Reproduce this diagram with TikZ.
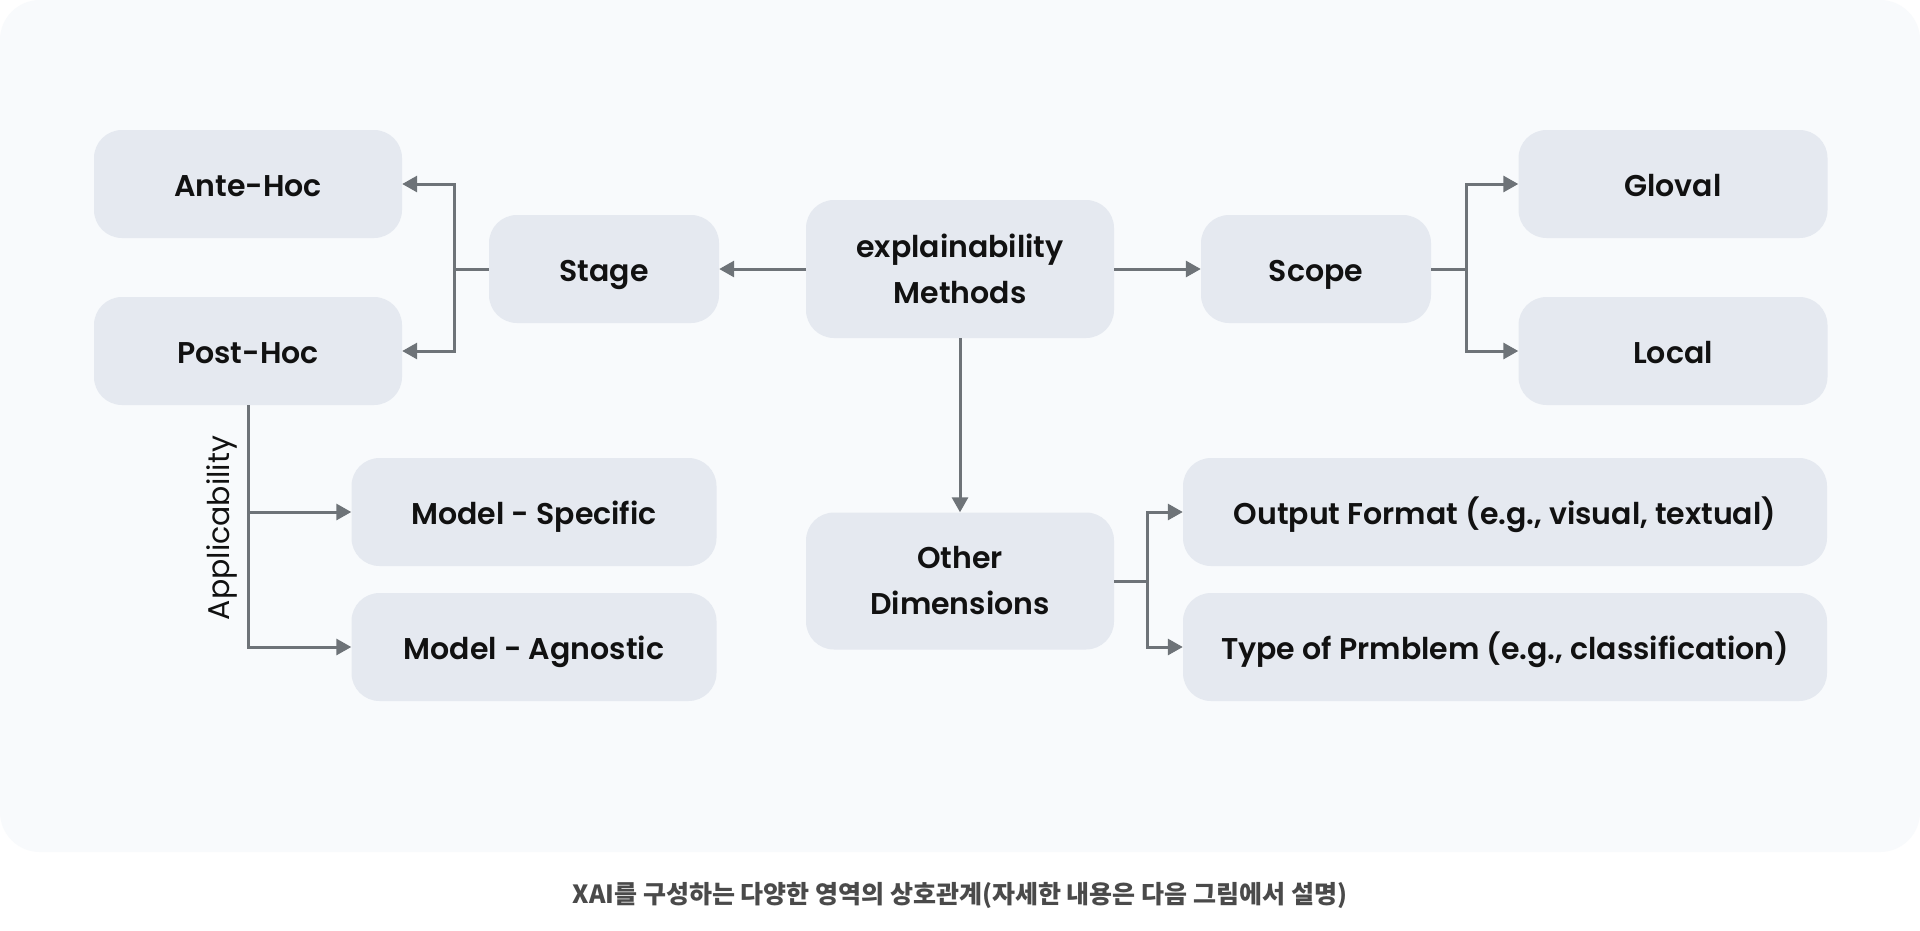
\documentclass[tikz,border=0pt]{standalone}
\usepackage{fontspec}
\usetikzlibrary{arrows.meta}
\newfontfamily\boxfont{Poppins SemiBold}
\newfontfamily\labfont{Poppins}
\newfontfamily\cjk{Noto Sans CJK KR}
\definecolor{panelbg}{HTML}{F8FAFC}
\definecolor{boxfill}{HTML}{E5E9F0}
\definecolor{connc}{HTML}{6E7378}
\definecolor{textc}{HTML}{111111}
\definecolor{capc}{HTML}{4A4A4A}
\tikzset{
  box/.style={rounded corners=28pt, fill=boxfill, minimum height=108pt, inner sep=0pt,
    align=center, text=textc, font=\boxfont\fontsize{30}{46}\selectfont},
  oneline/.style={text height=24pt, text depth=0pt},
  conn/.style={draw=connc, line width=3pt},
  arr/.style={conn, -{Triangle[length=15pt,width=16pt]}},
}
\begin{document}
\begin{tikzpicture}[x=1pt,y=-1pt]
\useasboundingbox (0,0) rectangle (1920,930);
\fill[white] (0,0) rectangle (1920,930);
\fill[panelbg, rounded corners=40pt] (0,0) rectangle (1920,852);

\node[box, oneline, minimum width=308pt] (antehoc) at (248,184) {Ante-Hoc};
\node[box, oneline, minimum width=308pt] (posthoc) at (248,351) {Post-Hoc};
\node[box, oneline, minimum width=230pt] (stage) at (604,269) {Stage};
\node[box, minimum width=308pt, minimum height=138pt] (xm) at (960,269) {explainability\\Methods};
\node[box, oneline, minimum width=230pt] (scope) at (1316,269) {Scope};
\node[box, oneline, minimum width=309pt] (gloval) at (1673,184) {Gloval};
\node[box, oneline, minimum width=309pt] (local) at (1673,351) {Local};
\node[box, oneline, minimum width=365pt] (mspec) at (534,512) {Model - Specific};
\node[box, oneline, minimum width=365pt] (magn) at (534,647) {Model - Agnostic};
\node[box, minimum width=308pt, minimum height=137pt] (other) at (960,581) {Other\\Dimensions};
\node[box, oneline, minimum width=644pt] (outf) at (1505,512) {Output Format (e.g., visual, textual)};
\node[box, oneline, minimum width=644pt] (typ) at (1505,647) {Type of Prmblem (e.g., classification)};

\node[rotate=90, text=textc, font=\labfont\fontsize{30}{36}\selectfont] (app) at (222,528) {Applicability};

\node[text=capc, font=\cjk\bfseries\fontsize{25}{30}\selectfont] (cap) at (960,895) {XAI를 구성하는 다양한 영역의 상호관계(자세한 내용은 다음 그림에서 설명)};

% Stage branch
\draw[conn] (stage.west) -- ++(-34,0) coordinate (sb);
\draw[arr] (sb) |- (antehoc.east);
\draw[arr] (sb) |- (posthoc.east);
% central
\draw[arr] (xm.west) -- (stage.east);
\draw[arr] (xm.east) -- (scope.west);
\draw[arr] (xm.south) -- (other.north);
% Scope branch
\draw[conn] (scope.east) -- ++(35,0) coordinate (scb);
\draw[arr] (scb) |- (gloval.west);
\draw[arr] (scb) |- (local.west);
% Other branch
\draw[conn] (other.east) -- ++(33,0) coordinate (ob);
\draw[arr] (ob) |- (outf.west);
\draw[arr] (ob) |- (typ.west);
% Applicability
\draw[arr] (posthoc.south) |- (magn.west);
\draw[arr] (posthoc.south |- mspec.west) -- (mspec.west);
\end{tikzpicture}
\end{document}
